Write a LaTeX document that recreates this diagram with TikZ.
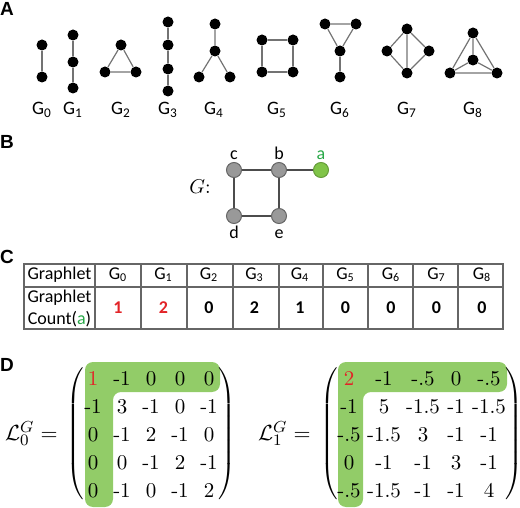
\documentclass[tikz,border=0pt]{standalone}
\usepackage{fontspec}
\usepackage{tikz}
\usetikzlibrary{positioning}
\newfontfamily\labfont{Carlito}
\newfontfamily\headfont{Liberation Sans}
\definecolor{hlgreen}{RGB}{146,204,104}
\definecolor{vgreen}{RGB}{128,196,72}
\definecolor{tgreen}{RGB}{40,168,72}
\definecolor{cred}{RGB}{226,36,40}
\newcommand{\gsub}[1]{G\textsubscript{#1}}

\begin{document}
\begin{tikzpicture}[
  x=0.5pt, y=-0.5pt,
  dot/.style={circle, fill=black, minimum size=5.5pt, inner sep=0pt},
  gedge/.style={draw=black!55, line width=0.6pt},
  vtx/.style={circle, fill=black!40, draw=black!60, line width=0.5pt, minimum size=7.5pt, inner sep=0pt},
  vlab/.style={font=\labfont\fontsize{9}{10}\selectfont, inner sep=0pt, text height=6pt, text depth=0pt},
  panel/.style={font=\headfont\bfseries\fontsize{9.5}{11}\selectfont, inner sep=0pt},
  glab/.style={font=\labfont\fontsize{9.5}{10}\selectfont, inner sep=0pt},
  cell/.style={font=\labfont\fontsize{9}{11}\selectfont, align=center, inner sep=0pt},
  tbl/.style={draw=black!60, line width=0.7pt},
  ent/.style={anchor=base, inner sep=0pt, font=\fontsize{10.5}{12}\selectfont},
  paren/.style={inner sep=0pt, font=\fontsize{10.5}{12}\selectfont},
  hl/.style={fill=hlgreen, rounded corners=4pt}
]
\useasboundingbox (0,0) rectangle (520,508);

% panel letters
\node[panel] (pA) at (7,9)   {A};
\node[panel] (pB) at (7,142) {B};
\node[panel] (pC) at (7,257) {C};
\node[panel] (pD) at (7,365) {D};

% A: graphlets
\node[dot] (g0a) at (42,45) {};
\node[dot] (g0b) at (42,77) {};
\draw[gedge] (g0a) -- (g0b);

\foreach \i/\y in {a/35,b/62,c/88} \node[dot] (g1\i) at (73,\y) {};
\draw[gedge] (g1a) -- (g1b) -- (g1c);

\node[dot] (g2a) at (121,45) {};
\node[dot] (g2b) at (105,72) {};
\node[dot] (g2c) at (136,72) {};
\draw[gedge] (g2a) -- (g2b) -- (g2c) -- (g2a);

\foreach \i/\y in {a/22,b/45,c/69,d/91} \node[dot] (g3\i) at (168,\y) {};
\draw[gedge] (g3a) -- (g3b) -- (g3c) -- (g3d);

\node[dot] (g4a) at (215,24) {};
\node[dot] (g4b) at (215,51) {};
\node[dot] (g4c) at (199,77) {};
\node[dot] (g4d) at (230,77) {};
\draw[gedge] (g4a) -- (g4b) -- (g4c);
\draw[gedge] (g4b) -- (g4d);

\node[dot] (g5a) at (262,40) {};
\node[dot] (g5b) at (293,40) {};
\node[dot] (g5c) at (293,72) {};
\node[dot] (g5d) at (262,72) {};
\draw[gedge] (g5a) -- (g5b) -- (g5c) -- (g5d) -- (g5a);

\node[dot] (g6a) at (325,24) {};
\node[dot] (g6b) at (356,24) {};
\node[dot] (g6c) at (340,51) {};
\node[dot] (g6d) at (340,77) {};
\draw[gedge] (g6a) -- (g6b) -- (g6c) -- (g6a);
\draw[gedge] (g6c) -- (g6d);

\node[dot] (g7a) at (407,29) {};
\node[dot] (g7b) at (387,51) {};
\node[dot] (g7c) at (429,51) {};
\node[dot] (g7d) at (407,73) {};
\draw[gedge] (g7a) -- (g7b) -- (g7d) -- (g7c) -- (g7a) -- (g7d);

\node[dot] (g8a) at (473,33) {};
\node[dot] (g8b) at (473,60) {};
\node[dot] (g8c) at (450,73) {};
\node[dot] (g8d) at (497,73) {};
\draw[gedge] (g8a) -- (g8c) -- (g8d) -- (g8a) -- (g8b);
\draw[gedge] (g8c) -- (g8b) -- (g8d);

\foreach \k/\x in {0/42,1/73,2/121,3/168,4/214,5/277,6/340,7/407,8/473}
  \node[glab] (gl\k) at (\x,110) {\gsub{\k}};

% B: example graph
\node[vtx] (c) at (234,170) {};
\node[vtx] (b) at (279,170) {};
\node[vtx, fill=vgreen, draw=vgreen!80!black] (a) at (321,170) {};
\node[vtx] (d) at (234,216) {};
\node[vtx] (e) at (279,216) {};
\draw[black!70, line width=0.6pt] (c) -- (b) -- (a);
\draw[black!70, line width=0.6pt] (c) -- (d) -- (e) -- (b);
\node[vlab, above=1.25pt of c] (lc) {c};
\node[vlab, above=1.25pt of b] (lb) {b};
\node[vlab, above=1.25pt of a, text=tgreen] (la) {a};
\node[vlab, below=1.25pt of d] (ld) {d};
\node[vlab, below=1.25pt of e] (le) {e};
\node[font=\fontsize{10}{12}\selectfont] (gname) at (200,187) {$G$:};

% C: graphlet counts
\draw[tbl] (24,264) rectangle (503,329);
\draw[tbl] (24,287) -- (503,287);
\foreach \x in {95,141,187,233,279,323,368,413,458}
  \draw[tbl] (\x,264) -- (\x,329);
\node[cell] (th) at (59.5,275) {Graphlet};
\node[cell] (tc) at (59.5,308) {Graphlet\\Count(\textcolor{tgreen}{a})};
\foreach \v [count=\k from 0] in {\textcolor{cred}{1},\textcolor{cred}{2},0,2,1,0,0,0,0} {
  \pgfmathsetmacro\cx{118+45.5*\k}
  \node[cell] (h\k) at (\cx,275) {\gsub{\k}};
  \node[cell, font=\labfont\bfseries\fontsize{9}{11}\selectfont] (n\k) at (\cx,308) {\v};
}

% D: Laplacians
\fill[hl] (85,362) -- (220,362) -- (220,392) -- (113,392) -- (113,507) -- (85,507) -- cycle;
\fill[hl] (338,362) -- (507,362) -- (507,392) -- (363,392) -- (363,507) -- (338,507) -- cycle;

\node[anchor=base east, inner sep=0pt, font=\fontsize{11}{12}\selectfont] (L0) at (58,440) {$\mathcal{L}^G_0=$};
\node[anchor=base east, inner sep=0pt, font=\fontsize{11}{12}\selectfont] (L1) at (311,440) {$\mathcal{L}^G_1=$};

\node[paren] (pl0) at (76,434)  {$\left(\vcenter{\hbox{\rule{0pt}{67pt}}}\right.$};
\node[paren] (pr0) at (226,434) {$\left.\vcenter{\hbox{\rule{0pt}{67pt}}}\right)$};
\node[paren] (pl1) at (330,434) {$\left(\vcenter{\hbox{\rule{0pt}{67pt}}}\right.$};
\node[paren] (pr1) at (513,434) {$\left.\vcenter{\hbox{\rule{0pt}{67pt}}}\right)$};

\foreach \row [count=\r] in {{\textcolor{cred}{1},-1,0,0,0},{-1,3,-1,0,-1},{0,-1,2,-1,0},{0,0,-1,2,-1},{0,-1,0,-1,2}}
  \foreach \v [count=\c] in \row {
    \pgfmathsetmacro\cx{{93,122,151,180,209}[\c-1]}
    \node[ent] (ma\r\c) at (\cx,357+28*\r) {\v};
  }
\foreach \row [count=\r] in {{\textcolor{cred}{2},-1,-.5,0,-.5},{-1,5,-1.5,-1,-1.5},{-.5,-1.5,3,-1,-1},{0,-1,-1,3,-1},{-.5,-1.5,-1,-1,4}}
  \foreach \v [count=\c] in \row {
    \pgfmathsetmacro\cx{{349,384,423,456,489}[\c-1]}
    \node[ent] (mb\r\c) at (\cx,357+28*\r) {\v};
  }
\end{tikzpicture}
\end{document}
